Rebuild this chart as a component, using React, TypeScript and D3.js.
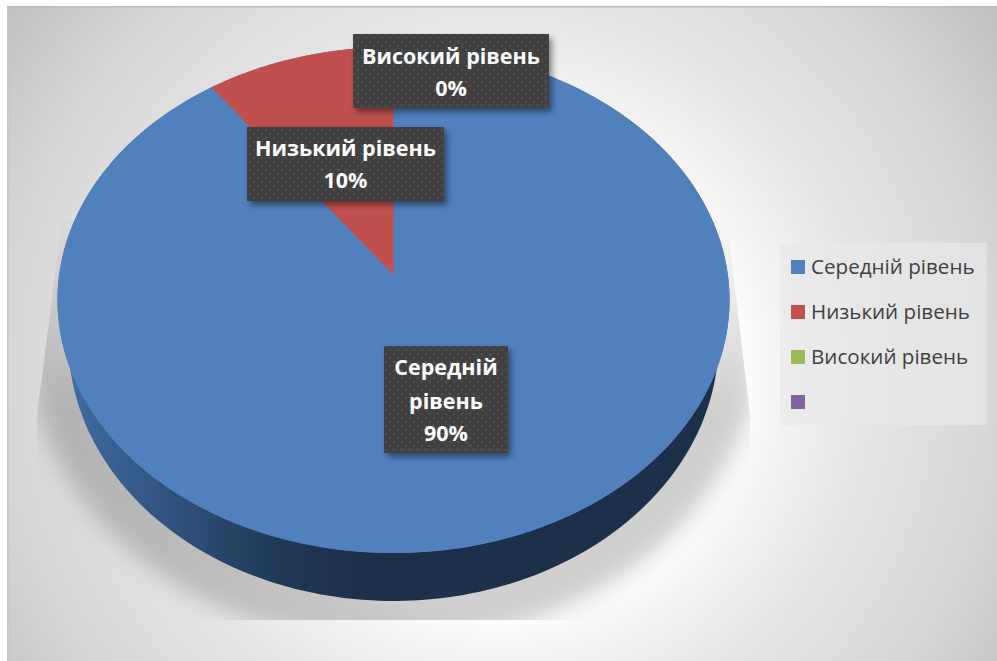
import React from "react";
import * as d3 from "d3";

const categories = ["Середній рівень", "Низький рівень", "Високий рівень", ""];
const seriesValues = [90, 10, 0, 0];
const sliceColors = ["#5081bd", "#c0504d", "#9bbb59", "#8064a2"];
const wallColors = ["url(#wall)", "#7a302e", "#5d7035", "#4c3c61"];
const labelLines = [["Середній", "рівень", "90%"], ["Низький рівень", "10%"], ["Високий рівень", "0%"]];
const labelBoxes = [
  { x: 384, y: 346, w: 124, h: 107, base: [375, 409, 441] },
  { x: 247, y: 127, w: 197, h: 74, base: [156, 188] },
  { x: 353, y: 34, w: 196, h: 74, base: [64, 96] },
];
const legendY = [260, 305, 350, 395];

const W = 997;
const H = 661;
const CX = 393.5;
const C = -0.0988;
const topRim = { d: 334.4, a: 223.4, b: 275 };
const lowRim = { d: 323.4, a: 226, b: 315.6 };

type Rim = { d: number; a: number; b: number };
const project = (t: number, r: Rim, k = 1): [number, number] => {
  const u = Math.sin(t) * k;
  const v = -Math.cos(t) * k;
  const w = 1 + C * v;
  return [CX + (r.d * u) / w, (r.a * v + r.b) / w];
};

const slices = d3.pie<number>().sort(null).startAngle(0).endAngle(2 * Math.PI)(seriesValues);
const line = d3.line();

const slicePath = (s: { startAngle: number; endAngle: number }, r: Rim) => {
  if (s.endAngle - s.startAngle <= 0) return "";
  const ts = d3.range(0, 241).map((i) => s.startAngle + ((s.endAngle - s.startAngle) * i) / 240);
  const full = s.endAngle - s.startAngle > 2 * Math.PI - 1e-6;
  const pts = ts.map((t) => project(t, r));
  return line(full ? pts : [project(0, r, 0), ...pts]) + "Z";
};

const rimAll = { startAngle: 0, endAngle: 2 * Math.PI };
const font = "'Open Sans', 'Noto Sans', sans-serif";

export default function App() {
  return (
    <svg
      width={W}
      height={H}
      viewBox={`0 0 ${W} ${H}`}
      style={{ position: "fixed", left: 0, top: 0, background: "#fff" }}
    >
      <defs>
        <radialGradient id="bg" gradientUnits="userSpaceOnUse" cx={500} cy={375} r={620}>
          <stop offset="0" stopColor="#ffffff" />
          <stop offset="0.38" stopColor="#ffffff" />
          <stop offset="0.45" stopColor="#f4f4f4" />
          <stop offset="0.6" stopColor="#e4e4e4" />
          <stop offset="0.8" stopColor="#d7d7d7" />
          <stop offset="1" stopColor="#bfbfbf" />
        </radialGradient>
        <linearGradient id="wall" gradientUnits="userSpaceOnUse" x1={60} x2={360} y1={0} y2={0}>
          <stop offset="0" stopColor="#426fa5" />
          <stop offset="0.35" stopColor="#30547f" />
          <stop offset="0.7" stopColor="#213a59" />
          <stop offset="1" stopColor="#1c3049" />
        </linearGradient>
        <linearGradient id="shadowFade" gradientUnits="userSpaceOnUse" x1={0} x2={0} y1={215} y2={410}>
          <stop offset="0" stopColor="#000" stopOpacity={0} />
          <stop offset="1" stopColor="#000" stopOpacity={0.19} />
        </linearGradient>
        <filter id="blur" x="-10%" y="-10%" width="120%" height="120%">
          <feGaussianBlur stdDeviation={11} />
        </filter>
        <clipPath id="floor">
          <polygon points="62,220 37,415 37,620 750,620 750,415 727,220" />
        </clipPath>
        <pattern id="dots" patternUnits="userSpaceOnUse" width={8} height={8}>
          <rect width={8} height={8} fill="#3f3f3f" />
          <rect x={1} y={1} width={2} height={2} fill="#525252" />
          <rect x={5} y={5} width={2} height={2} fill="#4e4e4e" />
        </pattern>
        <filter id="boxShadow" x="-15%" y="-15%" width="130%" height="135%">
          <feDropShadow dx={3} dy={4} stdDeviation={3} floodColor="#000" floodOpacity={0.45} />
        </filter>
      </defs>

      <rect x={8} y={7} width={W - 8} height={H - 7} fill="url(#bg)" />
      <rect x={7} y={6} width={W - 7} height={1.5} fill="#bdbdbd" />
      <rect x={7} y={6} width={1.5} height={H - 6} fill="#c4c4c4" />

      <g clipPath="url(#floor)">
        <ellipse cx={393} cy={345} rx={364} ry={298} fill="url(#shadowFade)" filter="url(#blur)" />
      </g>

      {slices.map((s, i) => (
        <path key={`w${i}`} d={slicePath(s, lowRim)} fill={wallColors[i]} />
      ))}
      <path d={slicePath(rimAll, topRim)} fill={sliceColors[0]} />
      {slices.map((s, i) => (
        <path key={`t${i}`} d={slicePath(s, topRim)} fill={sliceColors[i]} />
      ))}

      {labelBoxes.map((b, i) => (
        <g key={`l${i}`}>
          <rect x={b.x} y={b.y} width={b.w} height={b.h} fill="url(#dots)" filter="url(#boxShadow)" />
          {labelLines[i].map((t, j) => (
            <text
              key={j}
              x={b.x + b.w / 2}
              y={b.base[j]}
              textAnchor="middle"
              fontFamily={font}
              fontWeight={700}
              fontSize={21.5}
              fill="#fff"
            >
              {t}
            </text>
          ))}
        </g>
      ))}

      <rect x={780} y={243} width={207} height={182} fill="#e8e8e8" fillOpacity={0.7} />
      {categories.map((c, i) => (
        <g key={`k${i}`}>
          <rect x={791} y={legendY[i]} width={14} height={14} fill={sliceColors[i]} />
          <text x={811} y={legendY[i] + 14} fontFamily={font} fontSize={20.6} fill="#404040">
            {c}
          </text>
        </g>
      ))}
    </svg>
  );
}
